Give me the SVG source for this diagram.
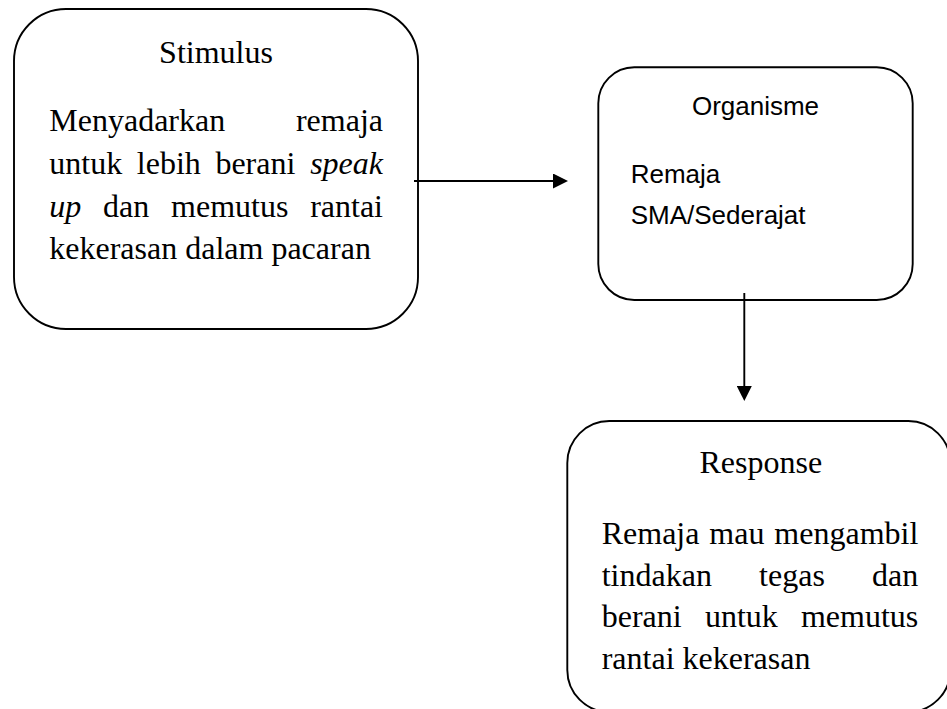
<svg xmlns="http://www.w3.org/2000/svg" width="947" height="709" viewBox="0 0 947 709">
<style>
.box{fill:#fff;stroke:#000;stroke-width:1.9}
.serif{font-family:"Liberation Serif","Times New Roman",serif;font-size:32px;fill:#000}
.sans{font-family:"Liberation Sans",Arial,sans-serif;font-size:26px;fill:#000}
.it{font-style:italic}
.conn{stroke:#000;stroke-width:1.9;fill:none}
</style>
<defs>
<marker id="arr" viewBox="0 0 15 15" refX="0" refY="7.5" markerWidth="15" markerHeight="15" orient="auto" markerUnits="userSpaceOnUse">
<path d="M0,0 L15,7.5 L0,15 Z" fill="#000"/>
</marker>
</defs>
<rect width="947" height="709" fill="#fff"/>
<g id="stimulus">
<rect class="box" x="14" y="9" width="404" height="320" rx="52" ry="52"/>
<text class="serif" x="216" y="63.3" text-anchor="middle">Stimulus</text>
<text class="serif" x="49.3" y="131.3">Menyadarkan</text>
<text class="serif" x="383" y="131.3" text-anchor="end">remaja</text>
<text class="serif" x="49.3" y="174">untuk</text>
<text class="serif" x="136.8" y="174">lebih</text>
<text class="serif" x="215.4" y="174">berani</text>
<text class="serif it" x="383" y="174" text-anchor="end">speak</text>
<text class="serif it" x="49.3" y="216.7">up</text>
<text class="serif" x="103.1" y="216.7">dan</text>
<text class="serif" x="171.1" y="216.7">memutus</text>
<text class="serif" x="383" y="216.7" text-anchor="end">rantai</text>
<text class="serif" x="49.3" y="259.3">kekerasan dalam pacaran</text>
</g>
<g id="organisme">
<rect class="box" x="598.3" y="67.3" width="314.4" height="232.7" rx="36" ry="36"/>
<text class="sans" x="755.5" y="115" text-anchor="middle">Organisme</text>
<text class="sans" x="630.7" y="183">Remaja</text>
<text class="sans" x="630.7" y="224">SMA/Sederajat</text>
</g>
<g id="response">
<rect class="box" x="567.3" y="421" width="383" height="291" rx="42" ry="42"/>
<text class="serif" x="760.8" y="473.3" text-anchor="middle">Response</text>
<text class="serif" x="601.7" y="543.5">Remaja</text>
<text class="serif" x="709.3" y="543.5">mau</text>
<text class="serif" x="918.3" y="543.5" text-anchor="end">mengambil</text>
<text class="serif" x="601.7" y="585.5">tindakan</text>
<text class="serif" x="759.1" y="585.5">tegas</text>
<text class="serif" x="918.3" y="585.5" text-anchor="end">dan</text>
<text class="serif" x="601.7" y="627">berani</text>
<text class="serif" x="704.9" y="627">untuk</text>
<text class="serif" x="918.3" y="627" text-anchor="end">memutus</text>
<text class="serif" x="601.7" y="669">rantai kekerasan</text>
</g>
<g id="connectors">
<line class="conn" x1="414" y1="181" x2="553" y2="181" marker-end="url(#arr)"/>
<line class="conn" x1="744.3" y1="293" x2="744.3" y2="386" marker-end="url(#arr)"/>
</g>
</svg>
